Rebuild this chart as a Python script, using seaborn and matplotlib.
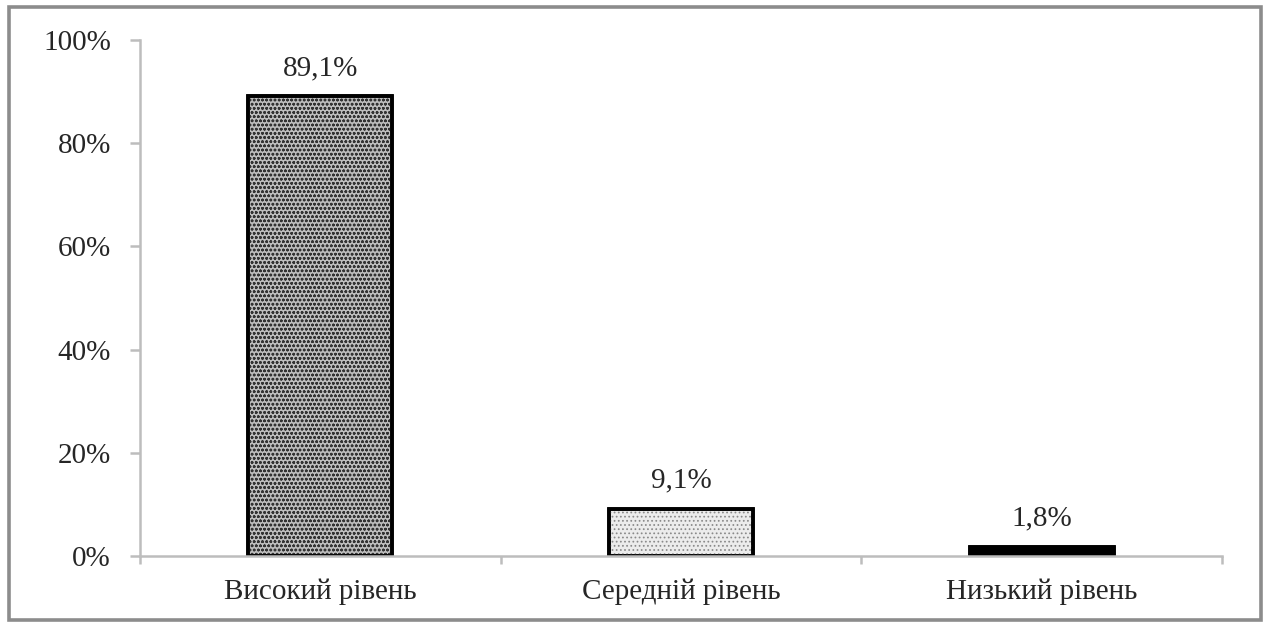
import matplotlib
matplotlib.use("Agg")
import matplotlib.pyplot as plt
from matplotlib.patches import Rectangle
import seaborn as sns
import pandas as pd

categories = ["Високий рівень", "Середній рівень", "Низький рівень"]
values = [89.1, 9.1, 1.8]
value_labels = ["89,1%", "9,1%", "1,8%"]
yticks = [0, 20, 40, 60, 80, 100]
ytick_labels = ["0%", "20%", "40%", "60%", "80%", "100%"]

face_colors = ["#bdbdbd", "#ececec", "#000000"]
hatch_styles = ["oooo", "....", None]
hatch_colors = ["#333333", "#8a8a8a", "#ffffff"]

FS = 21

sns.set_theme(style="white")
plt.rcParams["font.family"] = ["Liberation Serif", "DejaVu Serif"]
plt.rcParams["hatch.linewidth"] = 0.75

df = pd.DataFrame({"level": categories, "share": values})

fig = plt.figure(figsize=(12.69, 6.23), dpi=100)
ax = fig.add_axes([140 / 1269, 1 - 556 / 623, (1222 - 140) / 1269, (556 - 40) / 623])

sns.barplot(data=df, x="level", y="share", color="#c4c4c4", saturation=1,
            width=0.4, edgecolor="black", linewidth=2.6, ax=ax)

bars = list(ax.containers[0])
# solid fills, pattern fills on top, then a crisp outline
for patch, fc, hatch, hc in zip(bars, face_colors, hatch_styles, hatch_colors):
    patch.set_facecolor(fc)
    if hatch:
        ax.add_patch(Rectangle(patch.get_xy(), patch.get_width(), patch.get_height(),
                               fill=False, hatch=hatch, edgecolor=hc, linewidth=0,
                               zorder=patch.get_zorder() + 0.1))
    ax.add_patch(Rectangle(patch.get_xy(), patch.get_width(), patch.get_height(),
                           fill=False, edgecolor="black", linewidth=2.6,
                           zorder=patch.get_zorder() + 0.2))

ax.bar_label(ax.containers[0], labels=value_labels, padding=11, fontsize=FS)

ax.set_xlim(-0.5, 2.5)
ax.set_ylim(0, 100)
ax.set_yticks(yticks)
ax.set_yticklabels(ytick_labels, fontsize=FS)
ax.set_xlabel("")
ax.set_ylabel("")
ax.tick_params(axis="x", labelsize=FS, length=0, pad=16)
ax.set_xticks([-0.5, 0.5, 1.5, 2.5], minor=True)
ax.tick_params(axis="x", which="minor", length=6, width=1.8, color="#bdbdbd", direction="out", bottom=True)
ax.tick_params(axis="y", length=7, width=1.8, color="#bdbdbd", direction="out", pad=14, left=True)

for side in ["top", "right"]:
    ax.spines[side].set_visible(False)
for side in ["left", "bottom"]:
    ax.spines[side].set_color("#bdbdbd")
    ax.spines[side].set_linewidth(1.8)

# frame around the whole figure
fig.patches.append(Rectangle((9 / 1269, 3 / 623), (1261 - 9) / 1269, (616 - 3) / 623,
                             transform=fig.transFigure, fill=False,
                             edgecolor="#8c8c8c", linewidth=2.6))

fig.savefig("out.png", dpi=100)
